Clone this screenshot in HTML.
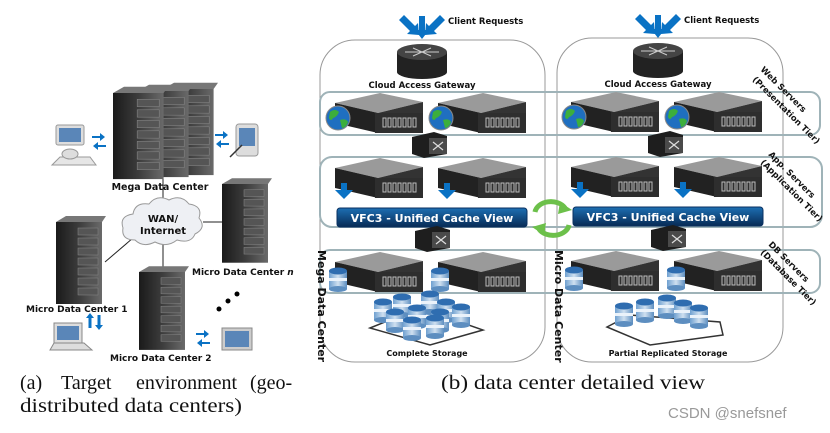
<!DOCTYPE html>
<html><head><meta charset="utf-8"><style>
html,body{margin:0;padding:0;background:#fff;}
svg{display:block;}
.b{font-family:"DejaVu Sans","Liberation Sans",sans-serif;font-weight:bold;fill:#111;}
.cap{font-family:"Liberation Serif",serif;font-size:20px;fill:#111;}
</style></head><body>
<svg width="830" height="433" viewBox="0 0 830 433" xmlns="http://www.w3.org/2000/svg">
<defs>
<linearGradient id="rk" x1="0" x2="1"><stop offset="0" stop-color="#1a1a1a"/><stop offset="0.5" stop-color="#3c3c3c"/><stop offset="1" stop-color="#6a6a6a"/></linearGradient>
<linearGradient id="vf" x1="0" y1="0" x2="0" y2="1"><stop offset="0" stop-color="#1d6fb3"/><stop offset="1" stop-color="#072a55"/></linearGradient>
<linearGradient id="db" x1="0" x2="1"><stop offset="0" stop-color="#6fa0d0"/><stop offset="0.5" stop-color="#cfe0f0"/><stop offset="1" stop-color="#5d8ec0"/></linearGradient>
<g id="srv">
 <polygon points="0,10 45,0 88,9 43,20" fill="#9a9a9a"/>
 <polygon points="0,10 43,20 43,40 0,30" fill="#222"/>
 <polygon points="43,20 88,9 88,30 43,40" fill="#333"/>
 <rect x="40" y="20" width="48" height="20" fill="#2e2e2e"/>
 <g fill="none" stroke="#bbb" stroke-width="1"><rect x="48" y="25" width="3" height="9"/><rect x="53" y="25" width="3" height="9"/><rect x="58" y="25" width="3" height="9"/><rect x="63" y="25" width="3" height="9"/><rect x="68" y="25" width="3" height="9"/><rect x="73" y="25" width="3" height="9"/><rect x="78" y="25" width="3" height="9"/></g>
</g>
<g id="globe"><circle cx="0" cy="0" r="12" fill="#1f6fc0" stroke="#888" stroke-width="1"/><path d="M-8,-6 q5,-4 9,0 q-2,5 -6,6 q-2,4 -4,0z M2,2 q6,-2 8,2 q-2,6 -6,6z" fill="#3cae3c"/></g>
<g id="cyl"><rect x="-9" y="0" width="18" height="18" fill="url(#db)"/><ellipse cx="0" cy="18" rx="9" ry="3" fill="#5d8ec0"/><rect x="-9" y="7" width="18" height="3" fill="#eaf2fa"/><ellipse cx="0" cy="0" rx="9" ry="3.5" fill="#2f6db0"/></g>
<g id="sw"><polygon points="0,5 22,0 35,4 35,22 12,26 0,22" fill="#1e1e1e"/><rect x="17" y="6" width="18" height="16" fill="#4a4a4a"/><path d="M21,10 l10,8 M21,18 l10,-8" stroke="#ddd" stroke-width="1.2"/></g>
<g id="rack1"><rect x="0" y="0" width="46" height="82" fill="url(#rk)"/><polygon points="0,0 10,-6 50,-6 46,0" fill="#777"/><g fill="#555" stroke="#888" stroke-width="0.5"><rect x="22" y="6" width="20" height="7"/><rect x="22" y="16" width="20" height="7"/><rect x="22" y="26" width="20" height="7"/><rect x="22" y="36" width="20" height="7"/><rect x="22" y="46" width="20" height="7"/><rect x="22" y="56" width="20" height="7"/><rect x="22" y="66" width="20" height="7"/></g></g>
<g id="bar"><path d="M0,0 h6 v-7 h6 v7 h6 l-9,9z" fill="#0a72c4"/></g>
</defs>

<!-- ===== LEFT (a) ===== -->
<line x1="163" y1="170" x2="163" y2="205" stroke="#222" stroke-width="1"/>
<line x1="105" y1="262" x2="133" y2="238" stroke="#222"/>
<line x1="203" y1="222" x2="222" y2="222" stroke="#222"/>
<line x1="163" y1="240" x2="163" y2="268" stroke="#222"/>
<g transform="translate(163,89)"><use href="#rack1" transform="scale(1.1,1.05)"/></g>
<g transform="translate(138,91)"><use href="#rack1" transform="scale(1.1,1.05)"/></g>
<g transform="translate(113,93)"><use href="#rack1" transform="scale(1.1,1.05)"/></g>
<text class="b" x="160" y="190" font-size="9.5" text-anchor="middle">Mega Data Center</text>
<path d="M135,240 q-14,0 -12,-12 q-4,-12 10,-14 q2,-12 16,-10 q8,-10 20,-4 q12,-6 20,4 q14,2 10,14 q8,10 -4,16 q-4,10 -18,6 q-10,8 -22,2 q-12,6 -20,-2z" fill="#eef0f4" stroke="#999"/>
<text class="b" x="163" y="222" font-size="10" text-anchor="middle">WAN/</text>
<text class="b" x="163" y="234" font-size="10" text-anchor="middle">Internet</text>
<use href="#rack1" transform="translate(222,184) scale(1,0.96)"/>
<text class="b" x="192" y="275" font-size="9">Micro Data Center <tspan font-style="italic">n</tspan></text>
<use href="#rack1" transform="translate(56,222)"/>
<text class="b" x="26" y="312" font-size="9">Micro Data Center 1</text>
<use href="#rack1" transform="translate(139,272) scale(1,0.95)"/>
<text class="b" x="110" y="361" font-size="9">Micro Data Center 2</text>
<!-- devices -->
<rect x="56" y="125" width="28" height="20" rx="2" fill="#ddd" stroke="#999"/><rect x="59" y="128" width="22" height="14" fill="#5a86b8"/>
<path d="M52,165 l8,-8 h30 l6,8z" fill="#e6e6e6" stroke="#999"/><ellipse cx="70" cy="154" rx="8" ry="5" fill="#ddd" stroke="#999"/>
<rect x="236" y="124" width="22" height="32" rx="3" fill="#ddd" stroke="#999"/><rect x="239" y="128" width="16" height="18" fill="#5a86b8"/><line x1="230" y1="157" x2="242" y2="145" stroke="#333" stroke-width="1.5"/>
<rect x="54" y="323" width="28" height="20" fill="#ddd" stroke="#888"/><rect x="57" y="326" width="22" height="14" fill="#5a86b8"/><path d="M50,350 l4,-7 h30 l8,7z" fill="#ddd" stroke="#888"/>
<rect x="222" y="328" width="30" height="22" fill="#ccc" stroke="#888"/><rect x="225" y="331" width="24" height="16" fill="#5a86b8"/>
<g fill="#0a72c4"><path d="M92,136 h8 v-3 l5,4 l-5,4 v-3 h-8z"/><path d="M106,145 h-8 v-3 l-5,4 l5,4 v-3 h8z"/>
<path d="M215,134 h8 v-3 l5,4 l-5,4 v-3 h-8z"/><path d="M229,143 h-8 v-3 l-5,4 l5,4 v-3 h8z"/>
<path d="M196,333 h8 v-3 l5,4 l-5,4 v-3 h-8z"/><path d="M210,342 h-8 v-3 l-5,4 l5,4 v-3 h8z"/>
<path d="M90,313 l4,5 h-2.5 v10 h-3 v-10 h-2.5z"/><path d="M99,330 l4,-5 h-2.5 v-10 h-3 v10 h-2.5z"/></g>
<circle cx="237" cy="294" r="2.5" fill="#000"/><circle cx="228" cy="301" r="2.5" fill="#000"/><circle cx="219" cy="309" r="2.5" fill="#000"/>

<!-- ===== RIGHT (b) ===== -->
<rect x="320" y="40" width="225" height="322" rx="35" fill="none" stroke="#999" stroke-width="1"/>
<rect x="557" y="38" width="226" height="324" rx="35" fill="none" stroke="#999" stroke-width="1"/>
<rect x="320" y="92" width="500" height="43" rx="10" fill="none" stroke="#9fb3b8" stroke-width="2"/>
<rect x="320" y="157" width="502" height="70" rx="12" fill="none" stroke="#9fb3b8" stroke-width="2"/>
<rect x="320" y="250" width="500" height="43" rx="10" fill="none" stroke="#9fb3b8" stroke-width="2"/>

<g id="dc">
<path d="M397,52 v20 a25,7 0 0 0 50,0 v-20z" fill="#222"/><ellipse cx="422" cy="52" rx="25" ry="8" fill="#444"/>
<path d="M405,52 h34 M413,48 l18,8 M431,48 l-18,8" stroke="#ccc" stroke-width="1"/>
<g fill="#0a72c4"><path d="M419,16 h6 v14 h4 l-7,9 l-7,-9 h4z"/><path d="M399,20 l5,-5 l11,11 l3,-3 l1,12 l-12,-1 l3,-3z"/><path d="M445,20 l-5,-5 l-11,11 l-3,-3 l-1,12 l12,-1 l-3,-3z"/></g>
<text class="b" x="448" y="24" font-size="8.5">Client Requests</text>
<text class="b" x="422" y="88" font-size="8.5" text-anchor="middle">Cloud Access Gateway</text>
<use href="#srv" transform="translate(335,93)"/><use href="#srv" transform="translate(438,93)"/>
<use href="#globe" transform="translate(338,118)"/><use href="#globe" transform="translate(441,118)"/>
<use href="#sw" transform="translate(412,132)"/>
<use href="#srv" transform="translate(335,158)"/><use href="#srv" transform="translate(438,158)"/>
<use href="#bar" transform="translate(335,190)"/><use href="#bar" transform="translate(438,190)"/>
<rect x="337" y="208" width="190" height="19" rx="3" fill="url(#vf)" stroke="#0a3060"/>
<text class="b" x="432" y="222" font-size="11" text-anchor="middle" style="fill:#fff">VFC3 - Unified Cache View</text>
<use href="#sw" transform="translate(415,226)"/>
<use href="#srv" transform="translate(335,252)"/><use href="#srv" transform="translate(438,252)"/>
<use href="#cyl" transform="translate(338,271)"/><use href="#cyl" transform="translate(440,271)"/>
</g>
<use href="#dc" transform="translate(236,-1)"/>

<polygon points="370,328 420,308 483,330 430,345" fill="#fff" stroke="#333" stroke-width="1.5"/>
<use href="#cyl" transform="translate(383,302)"/><use href="#cyl" transform="translate(402,297)"/><use href="#cyl" transform="translate(430,294)"/><use href="#cyl" transform="translate(446,302)"/>
<use href="#cyl" transform="translate(395,312)"/><use href="#cyl" transform="translate(417,308)"/><use href="#cyl" transform="translate(440,312)"/><use href="#cyl" transform="translate(461,307)"/>
<use href="#cyl" transform="translate(412,320)"/><use href="#cyl" transform="translate(435,318)"/>
<text class="b" x="427" y="356" font-size="8" text-anchor="middle">Complete Storage</text>
<polygon points="607,327 630,315 720,322 723,335 650,345" fill="#fff" stroke="#333" stroke-width="1.5"/>
<use href="#cyl" transform="translate(624,306)"/><use href="#cyl" transform="translate(645,302)"/><use href="#cyl" transform="translate(667,298)"/><use href="#cyl" transform="translate(683,303)"/><use href="#cyl" transform="translate(699,308)"/>
<text class="b" x="668" y="356" font-size="8" text-anchor="middle">Partial Replicated Storage</text>

<text class="b" font-size="11" transform="translate(318,250) rotate(90)">Mega Data Center</text>
<text class="b" font-size="11" transform="translate(555,250) rotate(90)">Micro Data Center</text>
<text class="b" font-size="8.5" transform="translate(760,70) rotate(45)">Web Servers</text>
<text class="b" font-size="8.5" transform="translate(752,80) rotate(45)">(Presentation Tier)</text>
<text class="b" font-size="8.5" transform="translate(768,155) rotate(45)">App. Servers</text>
<text class="b" font-size="8.5" transform="translate(760,163) rotate(45)">(Application Tier)</text>
<text class="b" font-size="8.5" transform="translate(768,245) rotate(45)">DB Servers</text>
<text class="b" font-size="8.5" transform="translate(760,253) rotate(45)">(Database Tier)</text>

<path d="M535,212 a16,12 0 0 1 30,-4" fill="none" stroke="#6cc04a" stroke-width="5"/><polygon points="560,202 572,210 558,214" fill="#6cc04a"/>
<path d="M569,225 a16,12 0 0 1 -30,4" fill="none" stroke="#6cc04a" stroke-width="5"/><polygon points="544,235 532,227 546,223" fill="#6cc04a"/>

<text class="cap" y="389"><tspan x="20">(a)</tspan><tspan x="61">Target</tspan><tspan x="136">environment</tspan><tspan x="250">(geo-</tspan></text>
<text class="cap" x="20" y="412" textLength="222" lengthAdjust="spacingAndGlyphs">distributed data centers)</text>
<text class="cap" x="441" y="389" textLength="264" lengthAdjust="spacingAndGlyphs">(b) data center detailed view</text>
<text x="668" y="418" font-family="Liberation Sans,sans-serif" font-size="15" fill="#999">CSDN @snefsnef</text>
</svg>
</body></html>
